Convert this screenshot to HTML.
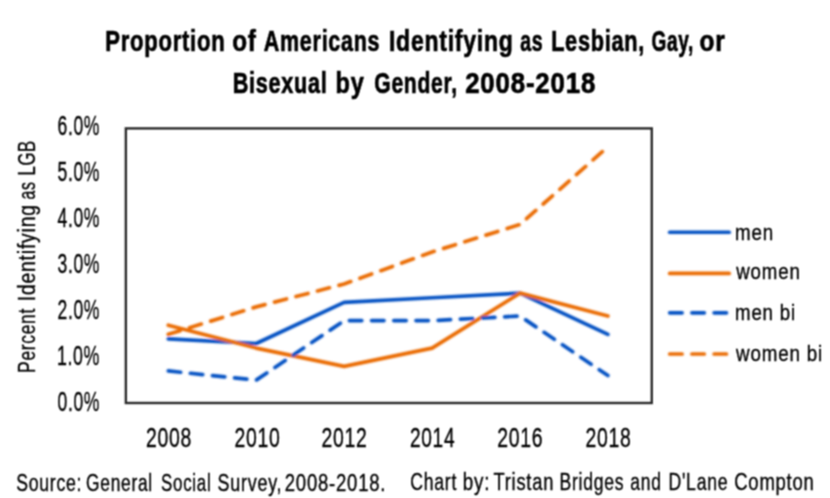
<!DOCTYPE html>
<html><head><meta charset="utf-8"><style>
html,body{margin:0;padding:0;background:#fff;width:830px;height:498px;overflow:hidden}
svg{display:block;font-family:"Liberation Sans",sans-serif}
text{fill:#000}
.r{stroke:#000;stroke-width:0.35px}
.b{stroke:#000;stroke-width:0.7px}
</style></head><body>
<svg width="830" height="498" viewBox="0 0 830 498">
<defs><filter id="bl" filterUnits="userSpaceOnUse" x="0" y="0" width="830" height="498"><feConvolveMatrix order="3" kernelMatrix="0.0625 0.125 0.0625 0.125 0.25 0.125 0.0625 0.125 0.0625" edgeMode="none"/></filter><filter id="bl2" filterUnits="userSpaceOnUse" x="0" y="0" width="830" height="498"><feConvolveMatrix order="5" kernelMatrix="0.00501 0.01730 0.02615 0.01730 0.00501 0.01730 0.05976 0.09034 0.05976 0.01730 0.02615 0.09034 0.13656 0.09034 0.02615 0.01730 0.05976 0.09034 0.05976 0.01730 0.00501 0.01730 0.02615 0.01730 0.00501" edgeMode="none"/></filter></defs>
<rect width="830" height="498" fill="#fff"/>
<g filter="url(#bl)">
<rect x="125.85" y="128.4" width="525.90" height="274.60" fill="none" stroke="#2a2a2a" stroke-width="2.4"/>
</g><g filter="url(#bl2)">
<polyline points="168.30,338.93 256.22,343.50 344.14,302.31 432.06,297.74 519.98,293.16 607.90,334.35" stroke="#004fc2" fill="none" stroke-width="3.7" stroke-linejoin="round" stroke-linecap="round"/>
<polyline points="168.30,325.20 256.22,348.08 344.14,366.39 432.06,348.08 519.98,293.16 607.90,316.04" stroke="#ea6a00" fill="none" stroke-width="3.7" stroke-linejoin="round" stroke-linecap="round"/>
<polyline points="168.30,370.96 256.22,380.12 344.14,320.62 432.06,320.62 519.98,316.04 607.90,375.54" stroke="#004fc2" fill="none" stroke-width="3.7" stroke-linejoin="round" stroke-linecap="round" stroke-dasharray="12.4 9.8"/>
<polyline points="168.30,334.35 256.22,306.89 344.14,284.01 432.06,251.97 519.98,224.51 607.90,146.71" stroke="#ea6a00" fill="none" stroke-width="3.7" stroke-linejoin="round" stroke-linecap="round" stroke-dasharray="12.4 9.8"/>
<line x1="669.7" y1="232.25" x2="729.2" y2="232.25" stroke="#004fc2" stroke-width="3.7" stroke-linecap="round"/>
<line x1="669.7" y1="273.4" x2="729.2" y2="273.4" stroke="#ea6a00" stroke-width="3.7" stroke-linecap="round"/>
<line x1="669.7" y1="312.8" x2="729.2" y2="312.8" stroke="#004fc2" stroke-width="3.7" stroke-linecap="round" stroke-dasharray="12.4 9.8"/>
<line x1="669.7" y1="354" x2="729.2" y2="354" stroke="#ea6a00" stroke-width="3.7" stroke-linecap="round" stroke-dasharray="12.4 9.8"/>
</g><g filter="url(#bl)">
<text class="b" x="105.21" y="51.00" font-size="29.5" font-weight="bold" letter-spacing="1.0" textLength="120.16" lengthAdjust="spacingAndGlyphs">Proportion</text>
<text class="b" x="232.18" y="51.00" font-size="29.5" font-weight="bold" letter-spacing="1.0" textLength="24.51" lengthAdjust="spacingAndGlyphs">of</text>
<text class="b" x="263.77" y="51.00" font-size="29.5" font-weight="bold" letter-spacing="1.0" textLength="116.48" lengthAdjust="spacingAndGlyphs">Americans</text>
<text class="b" x="388.94" y="51.00" font-size="29.5" font-weight="bold" letter-spacing="1.0" textLength="124.70" lengthAdjust="spacingAndGlyphs">Identifying</text>
<text class="b" x="520.14" y="51.00" font-size="29.5" font-weight="bold" letter-spacing="1.0" textLength="23.07" lengthAdjust="spacingAndGlyphs">as</text>
<text class="b" x="551.13" y="51.00" font-size="29.5" font-weight="bold" letter-spacing="1.0" textLength="93.83" lengthAdjust="spacingAndGlyphs">Lesbian,</text>
<text class="b" x="651.55" y="51.00" font-size="29.5" font-weight="bold" letter-spacing="1.0" textLength="42.43" lengthAdjust="spacingAndGlyphs">Gay,</text>
<text class="b" x="699.47" y="51.00" font-size="29.5" font-weight="bold" letter-spacing="1.0" textLength="26.07" lengthAdjust="spacingAndGlyphs">or</text>
<text class="b" x="232.74" y="92.60" font-size="29.5" font-weight="bold" letter-spacing="1.0" textLength="94.68" lengthAdjust="spacingAndGlyphs">Bisexual</text>
<text class="b" x="335.61" y="92.60" font-size="29.5" font-weight="bold" letter-spacing="1.0" textLength="29.04" lengthAdjust="spacingAndGlyphs">by</text>
<text class="b" x="374.28" y="92.60" font-size="29.5" font-weight="bold" letter-spacing="1.0" textLength="83.56" lengthAdjust="spacingAndGlyphs">Gender,</text>
<text class="b" x="465.13" y="92.60" font-size="29.5" font-weight="bold" letter-spacing="1.0" textLength="130.99" lengthAdjust="spacingAndGlyphs">2008-2018</text>
<text class="r" x="16.15" y="490.80" font-size="23.5" letter-spacing="1.0" textLength="66.10" lengthAdjust="spacingAndGlyphs">Source:</text>
<text class="r" x="86.06" y="490.80" font-size="23.5" letter-spacing="1.0" textLength="66.86" lengthAdjust="spacingAndGlyphs">General</text>
<text class="r" x="161.08" y="490.80" font-size="23.5" letter-spacing="1.0" textLength="50.37" lengthAdjust="spacingAndGlyphs">Social</text>
<text class="r" x="217.54" y="490.80" font-size="23.5" letter-spacing="1.0" textLength="64.80" lengthAdjust="spacingAndGlyphs">Survey,</text>
<text class="r" x="284.71" y="490.80" font-size="23.5" letter-spacing="1.0" textLength="101.59" lengthAdjust="spacingAndGlyphs">2008-2018.</text>
<text class="r" x="410.25" y="489.60" font-size="23.5" letter-spacing="1.0" textLength="46.85" lengthAdjust="spacingAndGlyphs">Chart</text>
<text class="r" x="462.70" y="489.60" font-size="23.5" letter-spacing="1.0" textLength="27.49" lengthAdjust="spacingAndGlyphs">by:</text>
<text class="r" x="493.40" y="489.60" font-size="23.5" letter-spacing="1.0" textLength="60.72" lengthAdjust="spacingAndGlyphs">Tristan</text>
<text class="r" x="559.51" y="489.60" font-size="23.5" letter-spacing="1.0" textLength="64.75" lengthAdjust="spacingAndGlyphs">Bridges</text>
<text class="r" x="630.26" y="489.60" font-size="23.5" letter-spacing="1.0" textLength="31.39" lengthAdjust="spacingAndGlyphs">and</text>
<text class="r" x="668.50" y="489.60" font-size="23.5" letter-spacing="1.0" textLength="59.81" lengthAdjust="spacingAndGlyphs">D&#39;Lane</text>
<text class="r" x="734.21" y="489.60" font-size="23.5" letter-spacing="1.0" textLength="80.44" lengthAdjust="spacingAndGlyphs">Compton</text>
<text class="r" x="734.95" y="239.80" font-size="22" letter-spacing="1.0" textLength="38.98" lengthAdjust="spacingAndGlyphs">men</text>
<text class="r" x="736.30" y="279.00" font-size="22" letter-spacing="1.0" textLength="64.33" lengthAdjust="spacingAndGlyphs">women</text>
<text class="r" x="735.05" y="320.20" font-size="22" letter-spacing="1.0" textLength="60.98" lengthAdjust="spacingAndGlyphs">men bi</text>
<text class="r" x="736.00" y="360.60" font-size="22" letter-spacing="1.0" textLength="87.14" lengthAdjust="spacingAndGlyphs">women bi</text>
<text class="r" x="57.56" y="410.90" font-size="27.5" letter-spacing="1.0" textLength="42.51" lengthAdjust="spacingAndGlyphs">0.0%</text>
<text class="r" x="56.90" y="364.98" font-size="27.5" letter-spacing="1.0" textLength="43.19" lengthAdjust="spacingAndGlyphs">1.0%</text>
<text class="r" x="57.56" y="319.07" font-size="27.5" letter-spacing="1.0" textLength="42.51" lengthAdjust="spacingAndGlyphs">2.0%</text>
<text class="r" x="57.56" y="273.15" font-size="27.5" letter-spacing="1.0" textLength="42.51" lengthAdjust="spacingAndGlyphs">3.0%</text>
<text class="r" x="57.56" y="227.23" font-size="27.5" letter-spacing="1.0" textLength="42.51" lengthAdjust="spacingAndGlyphs">4.0%</text>
<text class="r" x="57.56" y="181.32" font-size="27.5" letter-spacing="1.0" textLength="42.51" lengthAdjust="spacingAndGlyphs">5.0%</text>
<text class="r" x="57.56" y="135.40" font-size="27.5" letter-spacing="1.0" textLength="42.51" lengthAdjust="spacingAndGlyphs">6.0%</text>
<text class="r" x="146.09" y="447.30" font-size="27.5" letter-spacing="1.0" textLength="46.05" lengthAdjust="spacingAndGlyphs">2008</text>
<text class="r" x="234.39" y="447.30" font-size="27.5" letter-spacing="1.0" textLength="46.05" lengthAdjust="spacingAndGlyphs">2010</text>
<text class="r" x="321.39" y="447.30" font-size="27.5" letter-spacing="1.0" textLength="46.05" lengthAdjust="spacingAndGlyphs">2012</text>
<text class="r" x="409.90" y="447.30" font-size="27.5" letter-spacing="1.0" textLength="45.32" lengthAdjust="spacingAndGlyphs">2014</text>
<text class="r" x="497.19" y="447.30" font-size="27.5" letter-spacing="1.0" textLength="46.05" lengthAdjust="spacingAndGlyphs">2016</text>
<text class="r" x="585.39" y="447.30" font-size="27.5" letter-spacing="1.0" textLength="46.05" lengthAdjust="spacingAndGlyphs">2018</text>
<text class="r" transform="translate(35.2,0) rotate(-90)" x="-372.88" y="0" font-size="23.5" letter-spacing="1.0" textLength="64.91" lengthAdjust="spacingAndGlyphs">Percent</text>
<text class="r" transform="translate(35.2,0) rotate(-90)" x="-301.24" y="0" font-size="23.5" letter-spacing="1.0" textLength="97.00" lengthAdjust="spacingAndGlyphs">Identifying</text>
<text class="r" transform="translate(35.2,0) rotate(-90)" x="-199.58" y="0" font-size="23.5" letter-spacing="1.0" textLength="18.11" lengthAdjust="spacingAndGlyphs">as</text>
<text class="r" transform="translate(35.2,0) rotate(-90)" x="-175.62" y="0" font-size="23.5" letter-spacing="1.0" textLength="35.57" lengthAdjust="spacingAndGlyphs">LGB</text>
</g>
</svg>
</body></html>
